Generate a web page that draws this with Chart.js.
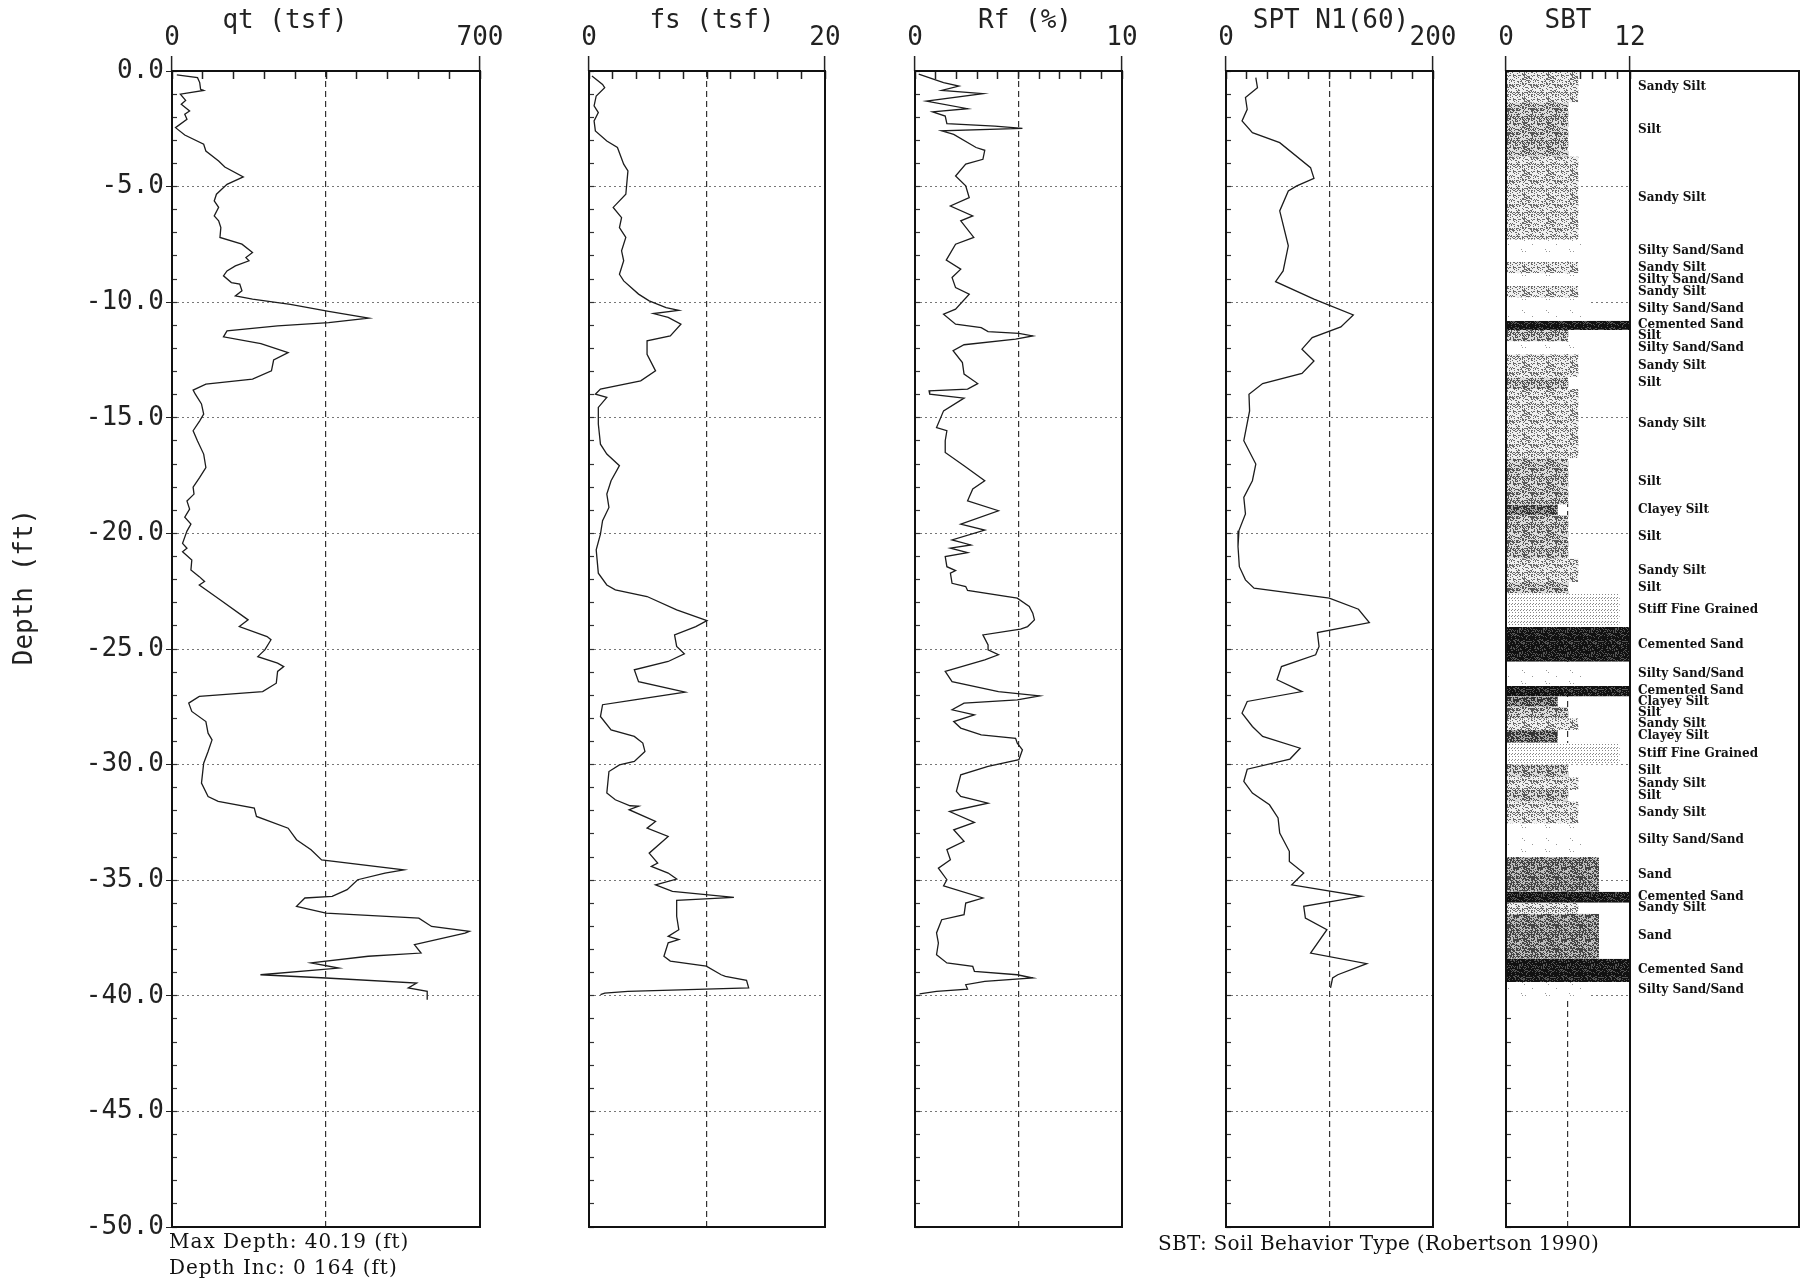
<!DOCTYPE html>
<html>
<head>
<meta charset="utf-8">
<title>CPT log</title>
<script src="https://cdn.jsdelivr.net/npm/chart.js@4.4.1/dist/chart.umd.min.js"></script>
<style>
  body { margin: 0; background: #fff; }
  #page { position: relative; width: 1801px; height: 1284px; overflow: hidden; background: #fff; }
  #page canvas { position: absolute; top: 0; }
  .note { position: absolute; font-family: "DejaVu Serif", serif; font-size: 20px; color: #111; white-space: nowrap; line-height: 1; }
</style>
</head>
<body>
<div id="page">
  <canvas id="qt"></canvas>
  <canvas id="fs"></canvas>
  <canvas id="rf"></canvas>
  <canvas id="spt"></canvas>
  <canvas id="sbt"></canvas>
  <div class="note" style="left:169px; top:1231px; letter-spacing:1px">Max Depth: 40.19 (ft)</div>
  <div class="note" style="left:169px; top:1257px; letter-spacing:1px">Depth Inc: 0 164 (ft)</div>
  <div class="note" style="left:1158px; top:1233px; letter-spacing:0.3px">SBT: Soil Behavior Type (Robertson 1990)</div>
</div>
<script>
/** Data (depth in ft, positive down) **/
const qtDepth = [0.17, 0.29, 0.5, 0.79, 0.84, 1.0, 1.27, 1.44, 1.73, 1.87, 2.09, 2.45, 2.77, 3.17, 3.46, 3.89, 4.15, 4.58, 4.9, 5.33, 5.62, 5.9, 6.27, 6.48, 6.77, 7.2, 7.49, 7.85, 8.07, 8.21, 8.43, 8.65, 8.86, 9.15, 9.22, 9.51, 9.73, 9.87, 10.09, 10.4, 10.69, 10.88, 11.02, 11.24, 11.5, 11.79, 12.18, 12.5, 12.97, 13.33, 13.54, 13.8, 13.98, 14.4, 14.84, 15.13, 15.56, 16.0, 16.57, 17.15, 17.58, 18.0, 18.3, 18.6, 18.95, 19.3, 19.6, 19.9, 20.43, 20.64, 20.79, 21.15, 21.58, 21.87, 22.08, 22.23, 22.88, 23.74, 24.03, 24.46, 24.6, 25.04, 25.33, 25.61, 25.76, 25.97, 26.48, 26.84, 27.05, 27.34, 27.7, 28.14, 28.64, 28.93, 29.43, 29.94, 30.8, 31.38, 31.59, 31.88, 32.24, 32.75, 33.25, 33.68, 34.12, 34.55, 34.69, 34.98, 35.41, 35.7, 35.77, 36.13, 36.42, 36.64, 37.0, 37.21, 37.29, 37.79, 38.15, 38.29, 38.58, 38.8, 39.09, 39.23, 39.45, 39.66, 39.81, 40.17];
const qtValue = [11, 58, 63, 65, 72, 19, 31, 21, 40, 29, 34, 8, 29, 72, 77, 106, 120, 162, 125, 101, 96, 106, 96, 106, 111, 109, 159, 183, 168, 175, 144, 125, 117, 135, 154, 159, 144, 183, 269, 356, 447, 356, 240, 125, 117, 202, 264, 231, 226, 183, 77, 48, 53, 67, 72, 63, 48, 58, 72, 77, 63, 48, 50, 34, 40, 29, 43, 34, 24, 34, 24, 45, 43, 62, 74, 62, 110, 173, 153, 216, 225, 211, 195, 240, 254, 240, 237, 206, 62, 38, 45, 77, 82, 91, 82, 72, 67, 82, 105, 187, 192, 264, 283, 316, 340, 527, 484, 422, 398, 364, 302, 283, 350, 561, 590, 676, 666, 551, 566, 446, 316, 379, 201, 350, 556, 537, 580, 580];

const fsDepth = [0.22, 0.58, 0.72, 1.08, 1.51, 1.8, 2.16, 2.59, 3.03, 3.31, 4.03, 4.32, 5.33, 5.9, 6.34, 6.77, 7.2, 7.78, 8.21, 8.79, 9.08, 9.65, 9.94, 10.23, 10.35, 10.49, 10.66, 10.95, 11.46, 11.67, 12.25, 12.97, 13.4, 13.76, 13.98, 14.12, 14.55, 15.27, 16.14, 16.57, 17.07, 17.72, 18.3, 18.88, 19.45, 20.03, 20.71, 21.72, 22.23, 22.44, 22.73, 23.31, 23.77, 24.03, 24.39, 24.89, 25.21, 25.54, 25.9, 26.41, 26.87, 27.2, 27.41, 27.92, 28.5, 28.78, 29.07, 29.43, 29.86, 30.01, 30.3, 31.23, 31.52, 31.78, 31.8, 31.95, 32.46, 32.75, 33.11, 33.83, 34.26, 34.4, 34.69, 34.95, 35.2, 35.48, 35.74, 35.87, 36.56, 37.14, 37.43, 37.57, 37.71, 38.29, 38.5, 38.72, 39.09, 39.16, 39.33, 39.66, 39.81, 39.88, 39.95];
const fsValue = [0.25, 1.15, 1.33, 0.61, 0.43, 0.79, 0.43, 0.54, 1.51, 2.41, 2.94, 3.3, 3.12, 2.05, 2.76, 2.58, 3.12, 2.76, 2.94, 2.58, 2.94, 4.2, 5.1, 6.53, 7.61, 5.46, 6.71, 7.79, 6.89, 4.92, 4.92, 5.64, 4.38, 0.97, 0.54, 1.51, 0.79, 0.79, 0.97, 1.51, 2.58, 1.87, 1.51, 1.69, 1.15, 0.97, 0.61, 0.79, 1.51, 2.23, 4.92, 7.43, 10.0, 9.05, 7.25, 7.43, 8.08, 6.71, 3.84, 4.2, 8.15, 3.84, 1.15, 0.97, 1.87, 3.84, 4.56, 4.74, 3.84, 2.58, 1.69, 1.51, 2.23, 3.48, 4.2, 3.4, 5.64, 4.92, 6.71, 5.1, 5.82, 5.28, 6.71, 7.43, 5.64, 7.07, 12.28, 7.43, 7.43, 7.61, 6.71, 7.61, 6.71, 6.35, 6.89, 9.94, 11.2, 11.56, 13.35, 13.53, 3.3, 1.33, 0.97];

const rfDepth = [0.14, 0.5, 0.65, 0.84, 0.98, 1.3, 1.63, 1.77, 1.95, 2.28, 2.38, 2.48, 2.59, 2.74, 3.31, 3.43, 3.82, 4.03, 4.54, 4.97, 5.48, 5.84, 6.27, 6.48, 7.2, 7.49, 8.18, 8.57, 8.93, 9.37, 9.65, 10.3, 10.52, 10.95, 11.1, 11.27, 11.35, 11.46, 11.6, 11.84, 12.1, 12.61, 13.11, 13.52, 13.76, 13.83, 13.98, 14.15, 14.7, 15.42, 15.56, 15.99, 16.5, 17.07, 17.72, 18.08, 18.59, 19.02, 19.6, 19.86, 20.28, 20.5, 20.64, 20.83, 21.0, 21.44, 21.61, 21.72, 22.16, 22.3, 22.47, 22.8, 23.16, 23.45, 23.74, 24.03, 24.14, 24.39, 24.82, 25.04, 25.25, 25.47, 25.97, 26.41, 26.84, 27.03, 27.2, 27.34, 27.63, 27.85, 28.14, 28.42, 28.71, 28.86, 29.07, 29.36, 29.79, 30.08, 30.44, 31.16, 31.38, 31.67, 32.03, 32.5, 32.82, 33.32, 33.68, 34.12, 34.48, 34.98, 35.24, 35.77, 35.99, 36.49, 36.71, 37.28, 37.72, 38.22, 38.58, 38.73, 38.94, 39.09, 39.23, 39.38, 39.52, 39.71, 39.81, 39.92];
const rfValue = [0.18, 1.38, 2.12, 1.29, 3.28, 0.55, 2.54, 0.85, 1.46, 1.54, 3.86, 5.19, 1.29, 1.87, 2.95, 3.37, 3.28, 2.45, 1.96, 2.45, 2.62, 1.71, 2.79, 2.21, 2.84, 1.96, 1.51, 2.21, 1.79, 1.96, 2.62, 1.96, 1.38, 1.96, 3.2, 3.53, 5.02, 5.69, 4.86, 2.37, 1.84, 2.29, 2.37, 3.03, 2.54, 0.68, 0.71, 2.37, 1.38, 1.04, 1.54, 1.46, 1.46, 2.37, 3.37, 2.79, 2.54, 4.03, 2.21, 3.37, 1.79, 2.7, 1.71, 2.54, 1.46, 1.54, 1.96, 1.71, 1.79, 2.45, 2.54, 4.94, 5.52, 5.69, 5.77, 5.44, 5.1, 3.28, 3.53, 3.53, 4.03, 3.37, 1.46, 1.79, 4.03, 6.02, 4.94, 2.37, 1.79, 2.87, 1.87, 2.21, 3.2, 4.86, 4.94, 5.19, 5.02, 3.53, 2.21, 2.0, 2.21, 3.53, 1.67, 2.87, 1.87, 2.37, 1.54, 1.71, 1.13, 1.54, 1.38, 3.28, 2.45, 2.37, 1.29, 1.04, 1.13, 1.04, 1.54, 2.79, 2.87, 4.94, 5.69, 3.37, 2.45, 2.54, 1.04, 0.22];

const sptDepth = [0.29, 0.72, 1.15, 1.66, 2.16, 2.67, 3.1, 4.18, 4.64, 4.97, 5.19, 6.05, 7.56, 8.65, 9.11, 9.87, 10.55, 11.07, 11.53, 12.03, 12.54, 13.08, 13.52, 13.98, 14.7, 15.99, 17.0, 17.72, 18.44, 19.16, 19.88, 20.57, 21.44, 22.01, 22.37, 22.8, 23.28, 23.86, 24.29, 24.89, 25.25, 25.76, 26.33, 26.84, 27.27, 27.77, 28.35, 28.78, 29.29, 29.76, 30.2, 30.73, 31.23, 31.74, 32.31, 32.96, 33.75, 34.19, 34.69, 35.2, 35.7, 36.13, 36.64, 37.14, 38.15, 38.61, 39.09, 39.23, 39.66];
const sptValue = [28.8, 30.4, 18.8, 20.5, 15.5, 25.5, 51.9, 81.7, 85, 68.4, 60.2, 51.9, 60.2, 55.2, 47.9, 85, 123, 111, 83.3, 73.4, 85, 73.4, 35.4, 22.2, 22.8, 17.2, 28.8, 25.5, 17.2, 18.8, 12.5, 11.6, 12.9, 18.8, 27.1, 99.8, 128, 138.5, 88.3, 89.9, 86.6, 53.6, 49.3, 73.4, 20.5, 15.5, 25.5, 35.4, 71.7, 61.8, 20.5, 17.2, 25.5, 42, 50.3, 51.9, 61.2, 61.2, 75.1, 63.5, 131, 75.1, 76.7, 97.5, 81.7, 136, 108, 103, 101];

/** Soil behaviour type layers **/
const sbtTop = [0, 1.35, 3.7, 7.3, 8.25, 8.75, 9.3, 9.8, 10.8, 11.2, 11.7, 12.25, 13.25, 13.75, 16.75, 18.75, 19.2, 21.1, 22.1, 22.6, 24.05, 25.55, 26.6, 27.05, 27.5, 28.0, 28.5, 29.05, 30.0, 30.55, 31.1, 31.6, 32.55, 34.0, 35.5, 35.97, 36.45, 38.4, 39.4];
const sbtBottom = [1.35, 3.7, 7.3, 8.25, 8.75, 9.3, 9.8, 10.8, 11.2, 11.7, 12.25, 13.25, 13.75, 16.75, 18.75, 19.2, 21.1, 22.1, 22.6, 24.05, 25.55, 26.6, 27.05, 27.5, 28.0, 28.5, 29.05, 30.0, 30.55, 31.1, 31.6, 32.55, 34.0, 35.5, 35.97, 36.45, 38.4, 39.4, 40.05];
const sbtZone = [7, 6, 7, 8, 7, 8, 7, 8, 12, 6, 8, 7, 6, 7, 6, 5, 6, 7, 6, 11, 12, 8, 12, 5, 6, 7, 5, 11, 6, 7, 6, 7, 8, 9, 12, 7, 9, 12, 8];
const sbtName = ["Sandy Silt", "Silt", "Sandy Silt", "Silty Sand/Sand", "Sandy Silt", "Silty Sand/Sand", "Sandy Silt", "Silty Sand/Sand", "Cemented Sand", "Silt", "Silty Sand/Sand", "Sandy Silt", "Silt", "Sandy Silt", "Silt", "Clayey Silt", "Silt", "Sandy Silt", "Silt", "Stiff Fine Grained", "Cemented Sand", "Silty Sand/Sand", "Cemented Sand", "Clayey Silt", "Silt", "Sandy Silt", "Clayey Silt", "Stiff Fine Grained", "Silt", "Sandy Silt", "Silt", "Sandy Silt", "Silty Sand/Sand", "Sand", "Cemented Sand", "Sandy Silt", "Sand", "Cemented Sand", "Silty Sand/Sand"];

/** Defaults **/
Chart.defaults.font.family = '"DejaVu Sans Mono", monospace';
Chart.defaults.font.size = 26;
Chart.defaults.color = '#222';

//  Stipple tiles used as bar fills (same look as the plotter shading)
function stipple(density, dark, light, grid) {
  const c = document.createElement('canvas');
  c.width = c.height = 24;
  const g = c.getContext('2d');
  g.fillStyle = light;
  g.fillRect(0, 0, 24, 24);
  g.fillStyle = dark;
  for (let y = 0; y < 24; y++) {
    for (let x = 0; x < 24; x++) {
      let on;
      if (grid) {
        on = (x % 3 === 0 && y % 3 === 0) || ((x + 1) % 3 === 0 && (y + 2) % 6 === 0);
      } else {
        const h = Math.sin(x * 12.9898 + y * 78.233) * 43758.5453;
        on = (h - Math.floor(h)) < density;
      }
      if (on) g.fillRect(x, y, 1, 1);
    }
  }
  return g.createPattern(c, 'repeat');
}

const fills = {
  "Sandy Silt": stipple(0.33, '#6a6a6a', '#efefef'),
  "Silt": stipple(0.45, '#555', '#dcdcdc'),
  "Clayey Silt": stipple(0.6, '#333', '#aaaaaa'),
  "Silty Sand/Sand": stipple(0.015, '#999', '#ffffff'),
  "Cemented Sand": stipple(0.75, '#111', '#555'),
  "Stiff Fine Grained": stipple(0, '#888', '#ffffff', true),
  "Sand": stipple(0.55, '#444', '#bdbdbd')
};

/** Plugin: panel title, depth title and the frame round each panel **/
const panelText = {
  id: 'panelText',
  afterDraw(chart, args, opts) {
    const ctx = chart.ctx;
    const a = chart.chartArea;
    ctx.save();
    ctx.font = '26px "DejaVu Sans Mono"';
    ctx.fillStyle = '#222';
    ctx.textAlign = 'center';
    ctx.textBaseline = 'middle';
    ctx.fillText(opts.title, opts.titleX, 21);
    if (opts.yTitle) {
      ctx.translate(25, 587);
      ctx.rotate(-Math.PI / 2);
      ctx.fillText(opts.yTitle, 0, 0);
    }
    ctx.restore();

    ctx.save();
    ctx.strokeStyle = '#111';
    ctx.lineWidth = 2;
    const right = opts.boxRight ? chart.scales.yl.right : a.right;
    ctx.strokeRect(a.left, a.top, right - a.left, a.bottom - a.top);
    if (opts.boxRight) {
      ctx.beginPath();
      ctx.moveTo(a.right, a.top);
      ctx.lineTo(a.right, a.bottom);
      ctx.stroke();
    }
    ctx.restore();
  }
};

/** Axes shared by every panel **/
function buildScales(p) {
  const mid = p.max / 2;
  return {
    x: {
      type: 'linear', position: 'top', min: 0, max: p.max, weight: 1,
      afterFit: s => { s.height = 71; },
      ticks: {
        stepSize: mid, padding: 2, maxRotation: 0, autoSkip: false,
        callback: v => (v === 0 || v === p.max) ? String(v) : ''
      },
      grid: {
        drawOnChartArea: true, tickLength: 15, lineWidth: 1.2, tickWidth: 1.5,
        color: c => (c.tick && c.tick.value === mid) ? '#333' : 'rgba(0,0,0,0)',
        tickColor: c => (c.tick && c.tick.value === mid) ? 'rgba(0,0,0,0)' : '#222'
      },
      border: { display: false, dash: [6, 4] }
    },
    //  Minor ticks hanging down from the top edge (axis sits on depth 0)
    xm: {
      type: 'linear', position: { y: 0 }, min: 0, max: p.max,
      afterFit: s => { s.height = 0; },
      ticks: { display: false, stepSize: p.max / 10 },
      grid: { drawOnChartArea: false, tickLength: 8, tickColor: '#222', tickWidth: 1.5 },
      border: { display: false }
    },
    y: {
      type: 'linear', position: 'left', min: -50, max: 0, weight: 1,
      afterFit: s => { s.width = p.padL; },
      ticks: { display: p.labels, stepSize: 5, padding: 2, callback: v => v.toFixed(1) },
      grid: { color: '#777', lineWidth: 1, drawTicks: p.labels, tickLength: 6, tickColor: '#222' },
      border: { display: false, dash: [2, 3] }
    },
    ym: {
      type: 'linear', position: 'left', min: -50, max: 0, weight: 0,
      afterFit: s => { s.width = 0; },
      ticks: { display: false, stepSize: 1 },
      grid: { drawOnChartArea: false, tickLength: -5, tickColor: '#333', tickWidth: 1.2 },
      border: { display: false }
    }
  };
}

function placeCanvas(id, left, width) {
  const el = document.getElementById(id);
  el.width = width;
  el.height = 1284;
  el.style.left = left + 'px';
  el.style.width = width + 'px';
  el.style.height = '1284px';
  return el;
}

/** The four curve panels **/
const panels = [
  { id: 'qt', left: 0, width: 560, padL: 172, padR: 80, max: 700, title: 'qt (tsf)', titleX: 285, labels: true, depth: qtDepth, value: qtValue },
  { id: 'fs', left: 549, width: 326, padL: 40, padR: 50, max: 20, title: 'fs (tsf)', titleX: 163, labels: false, depth: fsDepth, value: fsValue },
  { id: 'rf', left: 875, width: 300, padL: 40, padR: 53, max: 10, title: 'Rf (%)', titleX: 150, labels: false, depth: rfDepth, value: rfValue },
  { id: 'spt', left: 1186, width: 290, padL: 40, padR: 43, max: 200, title: 'SPT N1(60)', titleX: 145, labels: false, depth: sptDepth, value: sptValue }
];

panels.forEach(p => {
  const el = placeCanvas(p.id, p.left, p.width);
  new Chart(el, {
    type: 'scatter',
    data: {
      datasets: [{
        data: p.depth.map((d, i) => ({ x: p.value[i], y: -d })),
        showLine: true,
        borderColor: '#1c1c1c',
        borderWidth: 1.3,
        pointRadius: 0,
        xAxisID: 'x',
        yAxisID: 'y'
      }]
    },
    options: {
      responsive: false,
      devicePixelRatio: 1,
      animation: false,
      events: [],
      layout: { padding: { left: 0, right: p.padR, top: 0, bottom: 57 } },
      scales: buildScales(p),
      plugins: {
        legend: { display: false },
        tooltip: { enabled: false },
        panelText: { title: p.title, titleX: p.titleX, yTitle: p.labels ? 'Depth (ft)' : null }
      }
    },
    plugins: [panelText]
  });
});

/** SBT panel: one filled block per layer, names on a right-hand axis **/
const sbtPanel = { max: 12, padL: 30, labels: false };
const sbtScales = buildScales(sbtPanel);
sbtScales.yl = {
  type: 'linear', position: 'right', min: -50, max: 0,
  afterFit: s => { s.width = 169; },
  afterBuildTicks: s => {
    s.ticks = sbtTop.map((t, i) => ({ value: -(t + sbtBottom[i]) / 2 }));
  },
  ticks: {
    autoSkip: false, padding: 8, color: '#111',
    font: { family: '"DejaVu Serif", serif', size: 12, weight: 'bold' },
    callback: (v, i) => sbtName[i]
  },
  grid: { display: false, drawTicks: false },
  border: { display: false }
};

new Chart(placeCanvas('sbt', 1476, 325), {
  type: 'line',
  data: {
    datasets: sbtTop.map((t, i) => ({
      data: [{ x: sbtZone[i], y: -t }, { x: sbtZone[i], y: -sbtBottom[i] }],
      fill: 'origin',
      backgroundColor: fills[sbtName[i]],
      borderWidth: 0,
      pointRadius: 0,
      xAxisID: 'x',
      yAxisID: 'y'
    }))
  },
  options: {
    indexAxis: 'y',
    responsive: false,
    devicePixelRatio: 1,
    animation: false,
    events: [],
    layout: { padding: { left: 0, right: 2, top: 0, bottom: 57 } },
    scales: sbtScales,
    plugins: {
      legend: { display: false },
      tooltip: { enabled: false },
      panelText: { title: 'SBT', titleX: 92, boxRight: true }
    }
  },
  plugins: [panelText]
});
</script>
</body>
</html>
